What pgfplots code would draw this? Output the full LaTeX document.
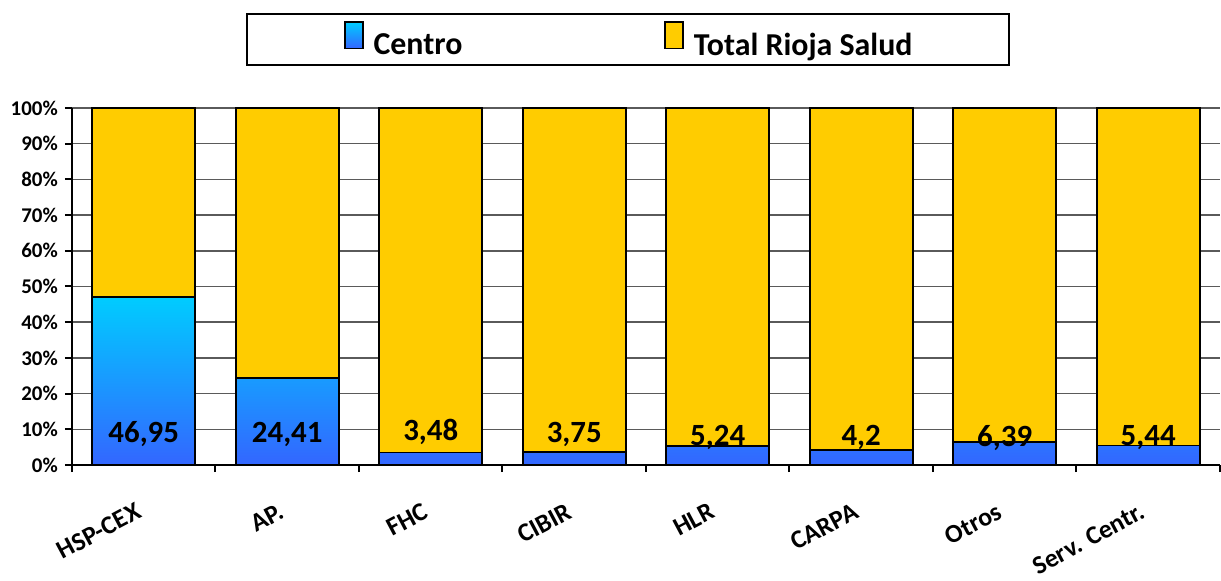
\documentclass[border=0pt]{standalone}
\usepackage{pgfplots}
\pgfplotsset{compat=1.18}
\usepackage{pgfplotstable}
\usepackage{fontspec}
\setmainfont{Carlito}
\definecolor{cenTop}{RGB}{0,204,255}
\definecolor{cenBot}{RGB}{51,102,255}
\definecolor{totY}{RGB}{255,204,0}
\definecolor{gridC}{RGB}{90,90,90}
\pgfplotstableread{
x c t lab ly
0 46.95 53.05 46,95 6.2
1 24.41 75.59 24,41 6.2
2 3.48 96.52 3,48 6.8
3 3.75 96.25 3,75 6.2
4 5.24 94.76 5,24 5.6
5 4.2 95.8 4,2 5.4
6 6.39 93.61 6,39 5.1
7 5.44 94.56 5,44 5.4
}\datatab
\begin{document}
\begin{tikzpicture}
\begin{axis}[
  at={(0,0)}, anchor=south west,
  scale only axis, width=1148bp, height=357bp,
  ybar stacked, bar width=103bp,
  xmin=-0.5, xmax=7.5, ymin=0, ymax=100,
  axis lines*=left,
  axis line style={line width=2.5bp, black},
  tick align=outside,
  major tick length=7bp,
  tick style={line width=2bp, black},
  xtick={-0.5,0.5,...,7.5}, xticklabels={},
  extra x ticks={0,1,2,3,4,5,6,7},
  extra x tick labels={HSP-CEX,AP.,FHC,CIBIR,HLR,CARPA,Otros,Serv. Centr.},
  extra x tick style={major tick length=0bp, grid=none,
    xticklabel style={yshift=-37bp, xshift=-9bp, rotate=28, anchor=north east, inner sep=0pt,
      font=\fontsize{26}{29}\selectfont\bfseries}},
  ytick={0,10,...,100},
  yticklabels={0\%,10\%,20\%,30\%,40\%,50\%,60\%,70\%,80\%,90\%,100\%},
  yticklabel style={font=\fontsize{21}{24}\selectfont\bfseries, inner sep=0pt, xshift=-7bp},
  ymajorgrids,
  grid style={line width=1.5bp, gridC},
  legend columns=2,
  legend style={at={(0.1516,1.2661)}, anchor=north west,
    draw=black, line width=2bp, inner xsep=97bp, inner ysep=7.5bp,
    font=\fontsize{32}{35}\selectfont\bfseries,
    nodes={inner sep=0pt},
    /tikz/every odd column/.append style={column sep=10bp},
    /tikz/every even column/.append style={column sep=202bp}},
  legend image code/.code={\draw[#1, line width=1.5bp] (0bp,-3bp) rectangle (18bp,23bp);},
  visualization depends on={\thisrow{c} \as \myy},
  visualization depends on={\thisrow{ly} \as \ly},
]
\addplot[draw=black, line width=1.8bp, top color=cenTop, bottom color=cenBot,
  point meta=explicit symbolic,
  nodes near coords={\pgfplotspointmeta},
  every node near coord/.style={anchor=base, inner sep=0pt, black,
    font=\fontsize{31}{34}\selectfont\bfseries,
    yshift={(\ly-0.5*\myy)*3.57bp}}]
  table[x=x, y=c, meta=lab]{\datatab};
\addlegendentry{Centro}
\addplot[draw=black, line width=1.8bp, fill=totY]
  table[x=x, y=t]{\datatab};
\addlegendentry{Total Rioja Salud}
\end{axis}
\pgfresetboundingbox
\useasboundingbox (-72bp,-116bp) rectangle (1149bp,465bp);
\end{tikzpicture}
\end{document}
